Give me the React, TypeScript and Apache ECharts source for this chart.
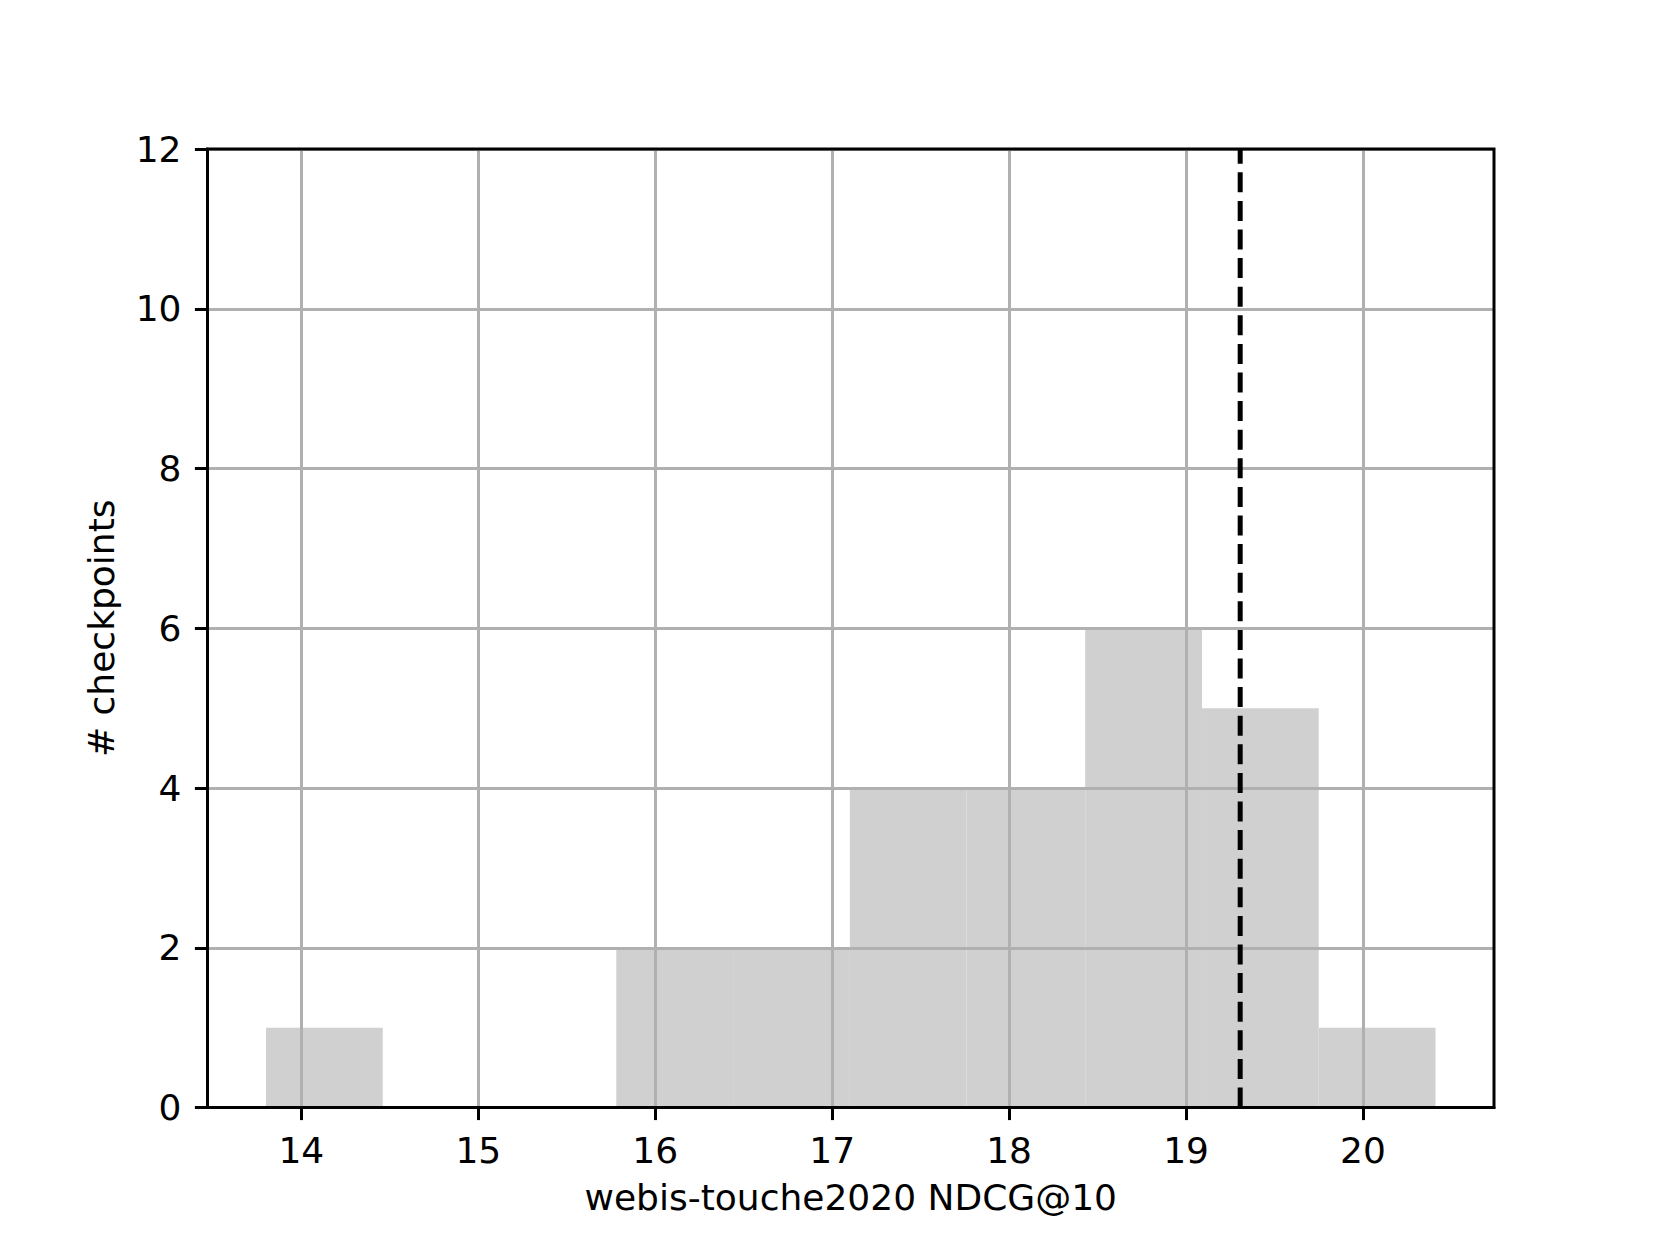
import React, { useEffect, useRef } from "react";
import * as echarts from "echarts";

const binEdges = [13.8, 14.46, 15.12, 15.78, 16.44, 17.1, 17.76, 18.43, 19.09, 19.75, 20.41];
const binCounts = [1, 0, 0, 2, 2, 4, 4, 6, 5, 1];
const xTicks = [14, 15, 16, 17, 18, 19, 20];
const yTicks = [0, 2, 4, 6, 8, 10, 12];
const refLineX = 19.306;
const xLabel = "webis-touche2020 NDCG@10";
const yLabel = "# checkpoints";

const FONT = "DejaVu Sans";

export default function App() {
  const ref = useRef<HTMLDivElement>(null);
  useEffect(() => {
    if (!ref.current) return;
    const chart = echarts.init(ref.current, null, { renderer: "svg" });
    const xMin = binEdges[0];
    const xMax = binEdges[binEdges.length - 1];
    const pad = (xMax - xMin) * 0.05;
    const bars = binCounts.map((c, i) => [binEdges[i], binEdges[i + 1], c]);
    chart.setOption({
      animation: false,
      backgroundColor: "#ffffff",
      grid: {
        left: 207.5,
        right: 166,
        top: 149,
        bottom: 137.5,
        show: true,
        z: 5,
        borderColor: "#000000",
        borderWidth: 3,
        backgroundColor: "transparent",
      },
      xAxis: {
        type: "value",
        min: xMin - pad,
        max: xMax + pad,
        splitNumber: 7,
        z: 3,
        name: xLabel,
        nameLocation: "middle",
        nameGap: 72,
        nameTextStyle: { fontFamily: FONT, fontSize: 36, color: "#000" },
        axisLine: { show: true, onZero: false, lineStyle: { color: "#000", width: 3 } },
        axisTick: { show: true, length: 12.6, lineStyle: { color: "#000", width: 3 }, customValues: xTicks },
        axisLabel: {
          fontFamily: FONT,
          fontSize: 36,
          color: "#000",
          margin: 25,
          customValues: xTicks,
        },
        splitLine: { show: true, lineStyle: { color: "#b0b0b0", width: 3 } },
      },
      yAxis: {
        type: "value",
        min: 0,
        max: 12,
        interval: 2,
        z: 3,
        name: yLabel,
        nameLocation: "middle",
        nameGap: 88,
        nameTextStyle: { fontFamily: FONT, fontSize: 36, color: "#000" },
        axisLine: { show: true, lineStyle: { color: "#000", width: 3 } },
        axisTick: { show: true, length: 12.6, lineStyle: { color: "#000", width: 3 }, customValues: yTicks },
        axisLabel: { fontFamily: FONT, fontSize: 36, color: "#000", margin: 26, customValues: yTicks },
        splitLine: { show: true, lineStyle: { color: "#b0b0b0", width: 3 } },
      },
      series: [
        {
          type: "custom",
          z: 1,
          encode: { x: [0, 1], y: 2 },
          data: bars,
          renderItem: (params: any, api: any) => {
            const x0 = api.value(0);
            const x1 = api.value(1);
            const c = api.value(2);
            const p0 = api.coord([x0, c]);
            const p1 = api.coord([x1, 0]);
            return {
              type: "rect",
              shape: { x: p0[0], y: p0[1], width: p1[0] - p0[0], height: p1[1] - p0[1] },
              style: { fill: "#d0d0d0" },
            };
          },
        },
        {
          type: "line",
          z: 10,
          symbol: "none",
          data: [
            [refLineX, 0],
            [refLineX, 12],
          ],
          lineStyle: { color: "#000", width: 5, type: [20, 8.6], cap: "butt" },
        },
      ],
    });
    return () => chart.dispose();
  }, []);
  return <div ref={ref} style={{ position: "absolute", left: 0, top: 0, width: 1660, height: 1245 }} />;
}
